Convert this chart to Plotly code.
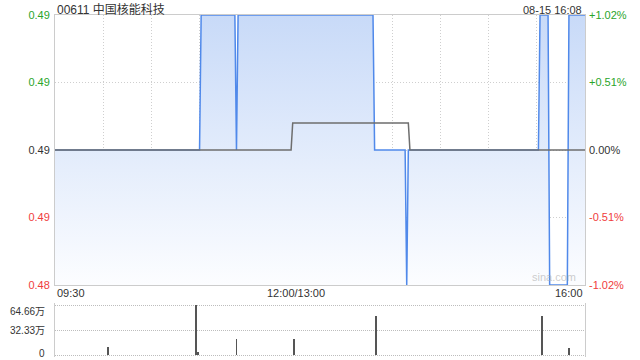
import plotly.graph_objects as go

# ---------------- data ----------------
title_text = "00611 中国核能科技"
stamp_text = "08-15 16:08"
prev_close = 0.49

price_times = ["09:30", "11:00", "11:01", "11:22", "11:23", "11:24", "13:48", "13:49",
               "14:08", "14:09", "14:10", "15:31", "15:32", "15:37", "15:38", "15:49",
               "15:50", "16:00"]
price_vals = [0.49, 0.49, 0.495, 0.495, 0.49, 0.495, 0.495, 0.49,
              0.49, 0.485, 0.49, 0.49, 0.495, 0.495, 0.485, 0.485,
              0.495, 0.495]

avg_times = ["09:30", "11:57", "11:58", "14:10", "14:11", "16:00"]
avg_vals = [0.49, 0.49, 0.491, 0.491, 0.49, 0.49]

vol_times = ["10:03", "10:58", "10:59", "11:23", "11:59", "13:50", "15:33", "15:50"]
vol_vals = [103000, 646600, 40000, 207000, 207000, 504000, 504000, 87000]

price_ticks = [0.485, 0.4875, 0.49, 0.4925, 0.495]
price_tick_text = ["0.48", "0.49", "0.49", "0.49", "0.49"]
pct_tick_text = ["-1.02%", "-0.51%", "0.00%", "+0.51%", "+1.02%"]
tick_colors = ["#f03c3c", "#f03c3c", "#333333", "#2aa52a", "#2aa52a"]

vol_ticks = [0, 323300, 646600]
vol_tick_text = ["0", "32.33万", "64.66万"]

time_labels = ["09:30", "12:00/13:00", "16:00"]
time_label_pos = ["09:30", "13:00", "16:00"]


def to_min(t):
    h, m = map(int, t.split(":"))
    mins = h * 60 + m
    if mins <= 12 * 60:
        return mins - (9 * 60 + 30)
    return 150 + mins - 13 * 60


px_ = [to_min(t) for t in price_times]
ax_ = [to_min(t) for t in avg_times]
vx_ = [to_min(t) for t in vol_times]
grid_x = list(range(0, 331, 30))

FONT = "Liberation Sans, Arial, Noto Sans CJK SC, sans-serif"

# pixel layout: plot area 15..357 (342 px)
H_PLOT = 342
main_bottom = (357 - 285) / H_PLOT
vol_top = (357 - 303) / H_PLOT
# volume axis: 0 at 355px, max at 305px inside a 303..357 panel
per_px = vol_ticks[-1] / 50.0
vol_range = [-2 * per_px, vol_ticks[-1] + 2 * per_px]

fig = go.Figure()

# baseline for the fill
fig.add_trace(go.Scatter(x=[0, 330], y=[price_ticks[0], price_ticks[0]], mode="lines",
                         line=dict(width=0), showlegend=False, hoverinfo="skip",
                         xaxis="x", yaxis="y"))
fig.add_trace(go.Scatter(x=px_, y=price_vals, mode="lines", fill="tonexty",
                         fillgradient=dict(type="vertical", start=price_ticks[0], stop=price_ticks[-1],
                                           colorscale=[[0, "rgb(252,253,255)"], [1, "rgb(200,218,248)"]]),
                         line=dict(color="#5089ea", width=1.5), showlegend=False,
                         xaxis="x", yaxis="y"))
fig.add_trace(go.Scatter(x=ax_, y=avg_vals, mode="lines",
                         line=dict(color="#6e6e6e", width=1.5), showlegend=False,
                         xaxis="x", yaxis="y"))
fig.add_trace(go.Bar(x=vx_, y=vol_vals, width=0.6, marker=dict(color="#555555", line=dict(width=0)),
                     showlegend=False, xaxis="x2", yaxis="y2"))

fig.update_layout(
    width=640, height=360, autosize=False,
    margin=dict(l=55, r=55, t=15, b=3, autoexpand=False),
    paper_bgcolor="white", plot_bgcolor="white",
    font=dict(family=FONT, size=11, color="#333333"),
    bargap=0,
    xaxis=dict(domain=[0, 1], range=[0, 330], anchor="y", tickvals=grid_x, showticklabels=False,
               ticks="", showgrid=True, gridcolor="#cfcfcf", griddash="1px,2px", gridwidth=1,
               showline=True, mirror=True, linecolor="#cccccc", linewidth=1, zeroline=False,
               automargin=False),
    yaxis=dict(domain=[main_bottom, 1], range=[price_ticks[0], price_ticks[-1]], anchor="x",
               tickvals=price_ticks,
               ticktext=[f"<span style='color:{c}'>{t}</span>" for t, c in zip(price_tick_text, tick_colors)],
               ticks="", ticklabelstandoff=2, ticklabeloverflow="allow",
               showgrid=True, gridcolor="#cfcfcf", griddash="1px,2px",
               showline=True, mirror=True, linecolor="#cccccc", linewidth=1, zeroline=False,
               tickfont=dict(size=11), automargin=False),
    yaxis3=dict(overlaying="y", side="right", anchor="x", range=[price_ticks[0], price_ticks[-1]],
                tickvals=price_ticks,
                ticktext=[f"<span style='color:{c}'>{t}</span>" for t, c in zip(pct_tick_text, tick_colors)],
                ticks="", ticklabelstandoff=3, ticklabeloverflow="allow",
                showgrid=False, showline=False, zeroline=False,
                tickfont=dict(size=11), automargin=False),
    xaxis2=dict(domain=[0, 1], range=[0, 330], anchor="y2", showticklabels=False, ticks="",
                showgrid=False, showline=False, zeroline=False, automargin=False),
    yaxis2=dict(domain=[0, vol_top], range=vol_range, anchor="x2", tickvals=vol_ticks,
                showticklabels=False, ticks="",
                showgrid=True, gridcolor="#bdbdbd", griddash="1px,1px", gridwidth=1,
                showline=True, mirror=True, linecolor="#cccccc", linewidth=1, zeroline=False,
                automargin=False),
)

# invisible trace so yaxis3 renders
fig.add_trace(go.Scatter(x=[0], y=[prev_close], mode="markers", marker=dict(opacity=0),
                         showlegend=False, hoverinfo="skip", xaxis="x", yaxis="y3"))

annotations = [
    dict(text=title_text, xref="paper", yref="paper", x=0, y=1, xanchor="left", yanchor="bottom",
         yshift=-4, showarrow=False, font=dict(size=12, color="#333333")),
    dict(text=stamp_text, xref="paper", yref="paper", x=1, y=1, xanchor="right", yanchor="bottom",
         xshift=-1, yshift=-3, showarrow=False, font=dict(size=11, color="#333333")),
    dict(text="sina.com", xref="x", yref="y", x=to_min("15:41"), y=price_ticks[0], xanchor="center",
         yanchor="bottom", showarrow=False, font=dict(size=11, color="rgba(170,170,170,0.6)")),
]
anchors = ["left", "center", "right"]
for lab, pos, anc in zip(time_labels, time_label_pos, anchors):
    annotations.append(dict(text=lab, xref="x", yref="paper", x=to_min(pos), y=(357 - 293) / H_PLOT,
                            xanchor=anc, yanchor="middle", showarrow=False,
                            font=dict(size=11, color="#333333")))
vol_shifts = [2, 0, -6]
for val, lab, sh in zip(vol_ticks, vol_tick_text, vol_shifts):
    annotations.append(dict(text=lab, xref="paper", yref="y2", x=0, y=val, xanchor="right",
                            yanchor="middle", xshift=-8, yshift=sh, showarrow=False,
                            font=dict(size=10, color="#333333")))
fig.update_layout(annotations=annotations)

fig.write_html("out.html")
